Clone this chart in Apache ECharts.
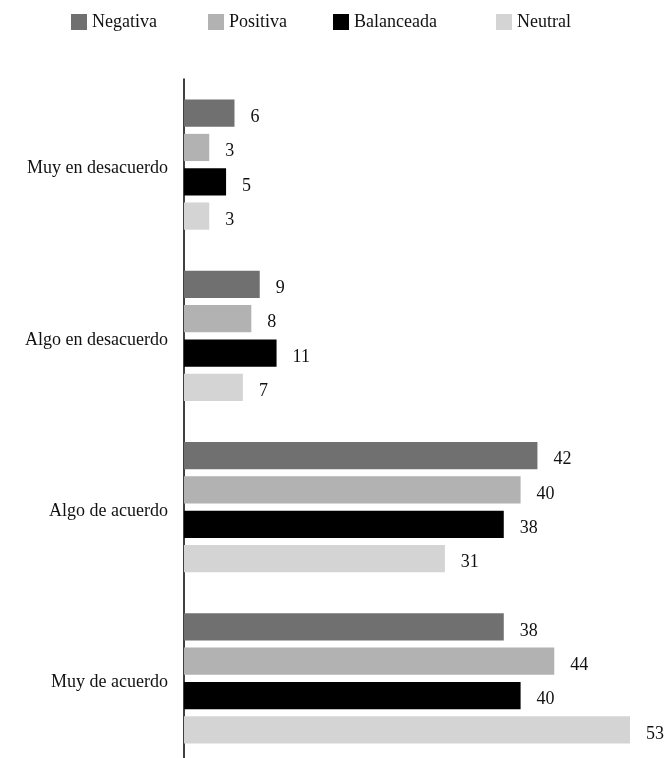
<!DOCTYPE html>
<html>
<head>
<meta charset="utf-8">
<script src="https://cdn.jsdelivr.net/npm/echarts@6/dist/echarts.min.js"></script>
<style>
  html, body { margin: 0; padding: 0; background: #fff; }
  #chart { width: 672px; height: 758px; }
</style>
</head>
<body>
<div id="chart"></div>
<script>
// categorías (de arriba a abajo)
const categories = ['Muy en desacuerdo', 'Algo en desacuerdo', 'Algo de acuerdo', 'Muy de acuerdo'];
const seriesNames = ['Negativa', 'Positiva', 'Balanceada', 'Neutral'];
const negativa = [6, 9, 42, 38];
const positiva = [3, 8, 40, 44];
const balanceada = [5, 11, 38, 40];
const neutral = [3, 7, 31, 53];

const colors = ['#707070', '#b2b2b2', '#000000', '#d4d4d4'];
const legendLeft = [66, 203, 328, 491];
const font = '"Liberation Serif", "DejaVu Serif", serif';

const values = [negativa, positiva, balanceada, neutral];

const chart = echarts.init(document.getElementById('chart'));

chart.setOption({
    animation: false,
    textStyle: {fontFamily: font},
    color: colors,
    legend: seriesNames.map((name, i) => ({
        data: [name],
        top: 8,
        left: legendLeft[i],
        itemWidth: 16,
        itemHeight: 16,
        icon: 'rect',
        selectedMode: false,
        textStyle: {fontFamily: font, fontSize: 18, color: '#111'}
    })),
    // la rejilla sigue un poco por debajo del borde, como en el original
    grid: {left: 184, width: 446, top: 79, height: 685, containLabel: false, outerBoundsMode: 'none'},
    xAxis: {
        type: 'value',
        min: 0,
        max: 53,
        show: false
    },
    yAxis: {
        type: 'category',
        inverse: true,
        data: categories,
        axisLine: {lineStyle: {color: '#000', width: 1.5}},
        axisTick: {show: false},
        axisLabel: {
            margin: 16,
            formatter: v => '{t|' + v + '}',
            rich: {t: {fontFamily: font, fontSize: 18, color: '#111', padding: [8, 0, 0, 0]}}
        }
    },
    series: seriesNames.map((name, i) => ({
        name: name,
        type: 'bar',
        data: values[i],
        barGap: '26%',
        barCategoryGap: '24%',
        itemStyle: {color: colors[i]},
        label: {
            show: true,
            position: 'right',
            distance: 16,
            offset: [0, 4],
            fontFamily: font,
            fontSize: 18,
            color: '#111'
        }
    }))
});
</script>
</body>
</html>
